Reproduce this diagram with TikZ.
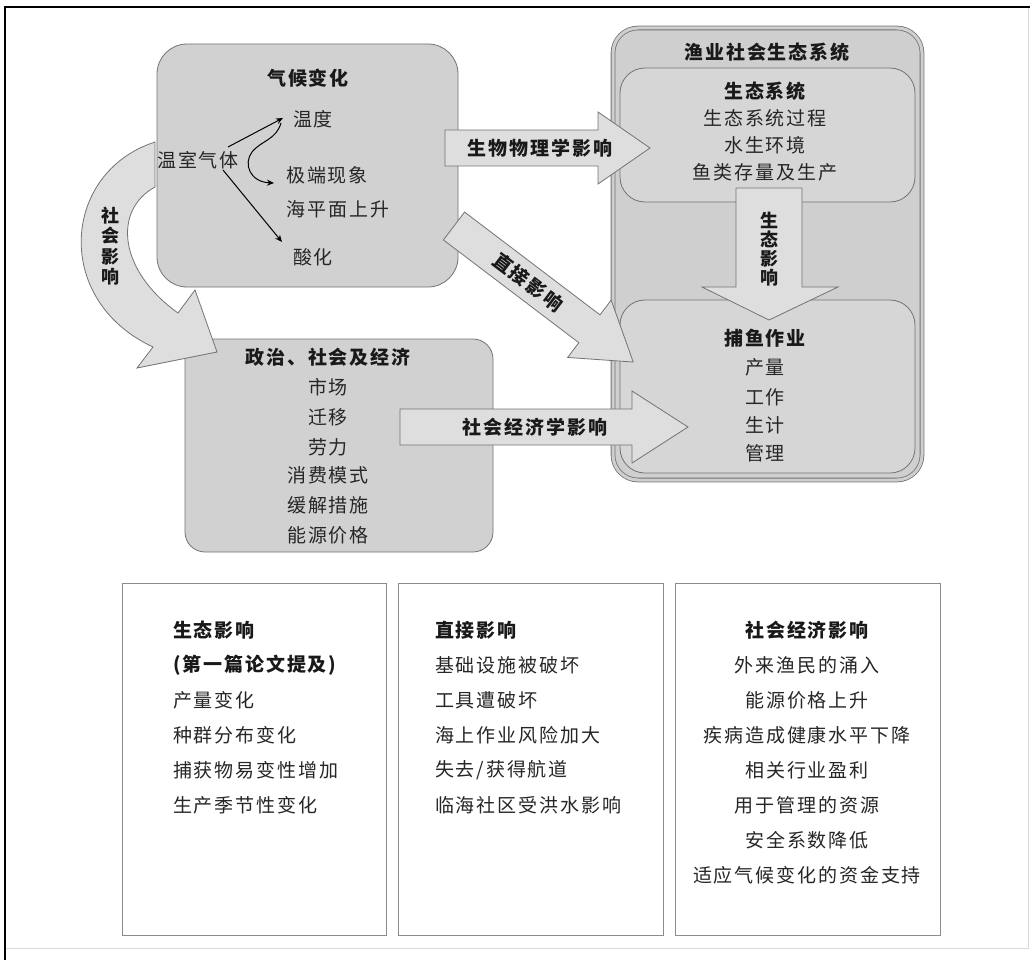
\documentclass[tikz,border=0pt]{standalone}
\usepackage{fontspec}
\newfontfamily\cjk[LetterSpace=10]{Noto Sans CJK SC}
\usetikzlibrary{arrows.meta}
\begin{document}
\begin{tikzpicture}[x=1pt,y=-1pt,
  every node/.style={inner sep=0pt, outer sep=0pt},
  txt/.style={font=\cjk\fontsize{19}{19}\selectfont, text=black!85},
  hd/.style={font=\cjk\bfseries\fontsize{19}{19}\selectfont, text=black!90},
  vtxt/.style={font=\cjk\bfseries\fontsize{18}{20.5}\selectfont, align=center, text=black!90},
  gbox/.style={draw=black!55, fill=black!18, line width=0.8pt},
  wbox/.style={draw=black!45, fill=white, line width=0.9pt},
  barrow/.style={draw=black!55, fill=black!13, line width=0.8pt},
  ptr/.style={-{Stealth[length=7pt,width=6pt]}, line width=1pt, black}]
\useasboundingbox (0,0) rectangle (1035,960);
% frame
\draw[black!15, line width=0.8pt] (1028,7) -- (1028,948) -- (5,948);
\draw[black, line width=1.5pt] (5,960) -- (5,7) -- (1030,7);

% politics box
\node[gbox, rounded corners=20pt, minimum width=308pt, minimum height=213pt] (pol) at (339,445.5) {};
% social impact curved arrow
\draw[barrow] (155,142) .. controls (62,172) and (52,300) .. (153,347) -- (137,368) -- (217,352) -- (195,290) -- (178,313) .. controls (118,270) and (113,210) .. (155,187) -- cycle;
\node[vtxt] (socl) at (110,246) {社\\会\\影\\响};
% climate box
\node[gbox, rounded corners=30pt, minimum width=301pt, minimum height=243pt] (clim) at (307.5,165.5) {};
% fisheries system
\node[draw=black!55, fill=black!19, line width=0.8pt, double=black!19, double distance=3pt, rounded corners=25pt, minimum width=309pt, minimum height=452pt] (fish) at (767.5,254) {};
\node[gbox, fill=black!16, rounded corners=25pt, minimum width=295pt, minimum height=134pt] (eco) at (767.5,135) {};
\node[gbox, fill=black!16, rounded corners=25pt, minimum width=295pt, minimum height=173pt] (fop) at (767.5,386.5) {};

% block arrows
\draw[barrow] (445,130) -- (598,130) -- (598,112) -- (650,148) -- (598,184) -- (598,166) -- (445,166) -- cycle;
\node[hd] (bio) at (540,148) {生物物理学影响};
\draw[barrow] (400,409) -- (632,409) -- (632,391) -- (688,427) -- (632,463) -- (632,445) -- (400,445) -- cycle;
\node[hd] (soe) at (535,427) {社会经济学影响};
\draw[barrow] (736,188) -- (802,188) -- (802,287) -- (838,287) -- (769,320) -- (702,287) -- (736,287) -- cycle;
\node[vtxt, font=\cjk\bfseries\fontsize{18}{19}\selectfont] (ecoi) at (769,249) {生\\态\\影\\响};
\begin{scope}[shift={(454,226)}, rotate=-37.2]
  \draw[barrow] (0,-17.5) -- (170,-17.5) -- (170,-36) -- (225,0) -- (170,36) -- (170,17.5) -- (0,17.5) -- cycle;
  \node[hd, rotate=-37.2] (dir) at (93,0) {直接影响};
\end{scope}

% climate texts
\node[hd] (climt) at (308,78) {气候变化};
\node[txt] (temp) at (313,119) {温度};
\node[txt] (ghg) at (198,160) {温室气体};
\node[txt] (ext) at (327,175) {极端现象};
\node[txt] (sea) at (338,209) {海平面上升};
\node[txt] (acid) at (313,257) {酸化};
\coordinate (g1) at (228,147);
\coordinate (g2) at (223,170);
\coordinate (t1) at (283,118);
\coordinate (a1) at (282,242);
\coordinate (c0) at (281,123);
\coordinate (e1) at (274,183);
\draw[ptr] (g1) -- (t1);
\draw[ptr] (g2) -- (a1);
\draw[ptr] (c0) .. controls (276,140) and (262,140) .. (252,152) .. controls (243,164) and (250,182) .. (e1);

% fisheries texts
\node[hd] (fisht) at (767,52) {渔业社会生态系统};
\node[hd] (ecot) at (765,91) {生态系统};
\node[txt] (eco1) at (765,118) {生态系统过程};
\node[txt] (eco2) at (765,145) {水生环境};
\node[txt] (eco3) at (765,172) {鱼类存量及生产};
\node[hd] (fopt) at (765,338) {捕鱼作业};
\node[txt] (fop1) at (765,367) {产量};
\node[txt] (fop2) at (765,397) {工作};
\node[txt] (fop3) at (765,425) {生计};
\node[txt] (fop4) at (765,453) {管理};

% politics texts
\node[hd] (polt) at (328,357) {政治、社会及经济};
\node[txt] (pol1) at (328,387) {市场};
\node[txt] (pol2) at (328,417) {迁移};
\node[txt] (pol3) at (328,447) {劳力};
\node[txt] (pol4) at (328,475) {消费模式};
\node[txt] (pol5) at (328,505) {缓解措施};
\node[txt] (pol6) at (328,535) {能源价格};

% bottom boxes
\node[wbox, minimum width=264pt, minimum height=352pt] (b1) at (254,759) {};
\node[wbox, minimum width=265pt, minimum height=352pt] (b2) at (530.5,759) {};
\node[wbox, minimum width=265pt, minimum height=352pt] (b3) at (807.5,759) {};

\node[hd, anchor=west] (b1a) at (173,630) {生态影响};
\node[hd, anchor=west] (b1b) at (173,665) {(第一篇论文提及)};
\node[txt, anchor=west] (b1c) at (173,700) {产量变化};
\node[txt, anchor=west] (b1d) at (173,735) {种群分布变化};
\node[txt, anchor=west] (b1e) at (173,770) {捕获物易变性增加};
\node[txt, anchor=west] (b1f) at (173,805) {生产季节性变化};

\node[hd, anchor=west] (b2a) at (435,630) {直接影响};
\node[txt, anchor=west] (b2b) at (435,665) {基础设施被破坏};
\node[txt, anchor=west] (b2c) at (435,700) {工具遭破坏};
\node[txt, anchor=west] (b2d) at (435,735) {海上作业风险加大};
\node[txt, anchor=west] (b2e) at (435,770) {失去/获得航道};
\node[txt, anchor=west] (b2f) at (435,805) {临海社区受洪水影响};

\node[hd] (b3a) at (807,630) {社会经济影响};
\node[txt] (b3b) at (807,665) {外来渔民的涌入};
\node[txt] (b3c) at (807,700) {能源价格上升};
\node[txt] (b3d) at (807,735) {疾病造成健康水平下降};
\node[txt] (b3e) at (807,770) {相关行业盈利};
\node[txt] (b3f) at (807,805) {用于管理的资源};
\node[txt] (b3g) at (807,840) {安全系数降低};
\node[txt] (b3h) at (807,875) {适应气候变化的资金支持};
\end{tikzpicture}
\end{document}
